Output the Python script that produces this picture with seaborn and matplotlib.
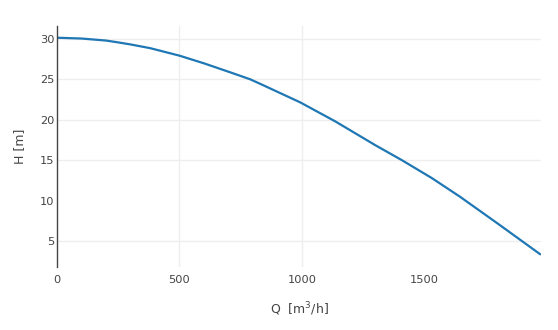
import matplotlib
matplotlib.use("Agg")
import matplotlib.pyplot as plt
import seaborn as sns
import pandas as pd

# Pump characteristic: head H [m] against flow Q [m3/h]
flow_q = [0, 100, 200, 250, 300, 380, 500, 600, 707, 789, 840, 993,
          1136, 1299, 1408, 1531, 1646, 1800, 1973]
head_h = [30.15, 30.05, 29.8, 29.57, 29.32, 28.86, 27.93, 26.98, 25.87, 25.0,
          24.3, 22.15, 19.8, 16.86, 15.0, 12.77, 10.46, 7.14, 3.35]

x_ticks = [0, 500, 1000, 1500]
y_ticks = [5, 10, 15, 20, 25, 30]
x_grid = [500, 1000]
y_grid = [5, 15, 20, 25, 30]

df = pd.DataFrame({"Q": flow_q, "H": head_h})

sns.set_style("white")
plt.rcParams["font.family"] = ["DejaVu Sans"]

text_color = "#444444"
fig = plt.figure(figsize=(5.58, 3.30), dpi=100)
ax = fig.add_axes([57 / 558, 1 - 267 / 330, 484 / 558, 241 / 330])

for gx in x_grid:
    ax.axvline(gx, color="#eeeeee", lw=1, zorder=0)
for gy in y_grid:
    ax.axhline(gy, color="#eeeeee", lw=1, zorder=0)

sns.lineplot(data=df, x="Q", y="H", ax=ax, color="#1f77b4", lw=1.6,
             estimator=None, sort=False)

ax.set_xlim(0, 1976)
ax.set_ylim(1.78, 31.6)
ax.set_xticks(x_ticks)
ax.set_yticks(y_ticks)
ax.tick_params(axis="both", length=0, labelsize=8.2, labelcolor=text_color)
ax.tick_params(axis="x", pad=6)
ax.tick_params(axis="y", pad=2)

for side in ["top", "right", "bottom"]:
    ax.spines[side].set_visible(False)
ax.spines["left"].set_color(text_color)
ax.spines["left"].set_linewidth(1)

ax.set_xlabel("Q  [m$^3$/h]", fontsize=9, color=text_color)
ax.set_ylabel("H [m]", fontsize=9, color=text_color)
ax.xaxis.set_label_coords(0.5, -0.174)
ax.xaxis.label.set_verticalalignment("center")
ax.yaxis.set_label_coords(-0.0764, 0.5)
ax.yaxis.label.set_verticalalignment("center")

fig.savefig("out.png", dpi=100)
